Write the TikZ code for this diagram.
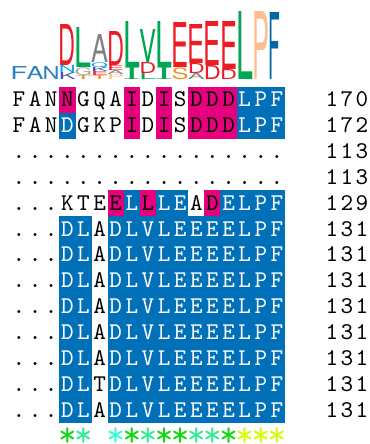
\documentclass[tikz,border=0pt]{standalone}
\usepackage{fontspec}
\usepackage{xcolor}
\usepackage{graphicx}
\usepackage{tikz}
\newfontfamily\logofont{TeX Gyre Heros}

\newlength{\pxu}
\setlength{\pxu}{0.4167pt}
\newcommand{\spreadnum}[3]{\makebox[6.25pt]{#1}\makebox[6.25pt]{#2}\makebox[6.25pt]{#3}}

\definecolor{hlmagenta}{RGB}{230,0,126}
\definecolor{hlblue}{RGB}{0,112,184}
\definecolor{lgred}{RGB}{237,28,36}
\definecolor{lggreen}{RGB}{0,166,81}
\definecolor{lggray}{RGB}{128,128,128}
\definecolor{lglight}{RGB}{165,165,165}
\definecolor{lgpeach}{RGB}{252,190,140}
\definecolor{lgsteel}{RGB}{0,105,165}
\definecolor{lgblue}{RGB}{45,130,190}
\definecolor{lgcyan}{RGB}{0,170,235}
\definecolor{lgviolet}{RGB}{75,75,190}
\definecolor{lgorange}{RGB}{245,140,40}
\definecolor{stargreen}{RGB}{20,215,20}
\definecolor{starmint}{RGB}{50,235,150}
\definecolor{staraqua}{RGB}{60,250,210}
\definecolor{staryellow}{RGB}{215,250,0}

\tikzset{
    res/.style={
        font=\fontsize{10}{12}\selectfont\ttfamily,
        inner sep=0pt,
        minimum width=6.8pt,
        minimum height=10.85pt,
        text height=7.33pt,
        text depth=1.5pt
    }
}
\tikzset{
    hl n/.style={text=black}
}
\tikzset{
    hl m/.style={fill=hlmagenta, text=black}
}
\tikzset{
    hl b/.style={fill=hlblue, text=white}
}
\tikzset{
    logo/.style={
        inner sep=0pt,
        anchor=south,
        font=\logofont
    }
}
\tikzset{
    seqno/.style={res, minimum width=20pt}
}
\tikzset{
    consensus/.style={
        font=\fontsize{15}{15}\selectfont\ttfamily,
        inner sep=0pt,
        anchor=base
    }
}

\begin{document}
\begin{tikzpicture}[
    x=0.4167pt,
    y=-0.4167pt
]
\useasboundingbox (0,0) rectangle (370,444);

% =========================================================
% Sequence logo
% =========================================================

\foreach \c/\b/\h/\lc/\l [count=\k] in {
    1/80/13/lgblue/F, 2/80/13/lgblue/A, 3/80/13/lgblue/N,
    4/80/7/lgviolet/K, 4/73/7/lgcyan/N, 4/66/41/lgred/D,
    5/80/4/lgorange/T, 5/76/8/lglight/G, 5/68/40/lggreen/L,
    6/80/4/lgorange/T, 6/76/4/lgred/E, 6/72/4/lgviolet/K, 6/68/5/lgcyan/Q, 6/63/28/lggray/A,
    7/80/5/lgpeach/P, 7/75/4/lggray/A, 7/71/5/lgred/E, 7/66/34/lgred/D,
    8/80/12/lggreen/{\rmfamily I}, 8/68/46/lggreen/L,
    9/80/6/lggreen/L, 9/74/11/lgred/D, 9/63/33/lggreen/V,
    10/80/12/lggreen/{\rmfamily I}, 10/68/46/lggreen/L,
    11/80/12/lgorange/S, 11/68/45/lgred/E,
    12/80/6/lggray/A, 12/74/10/lgred/D, 12/64/39/lgred/E,
    13/80/14/lgred/D, 13/66/44/lgred/E,
    14/80/10/lgred/D, 14/70/48/lgred/E,
    15/80/68/lggreen/L, 16/80/68/lgpeach/P, 17/80/67/lgsteel/F
} {
    \node[logo, text=\lc] (logo\k) at ({19+(\c-1)*16.12},\b)
        {\resizebox*{17\pxu}{\h\pxu}{\l}};
}

% =========================================================
% Alignment
% =========================================================

% row 1
\foreach \ch/\cd [count=\c] in {F/n,A/n,N/n,N/m,G/n,Q/n,A/n,I/m,D/n,I/m,S/n,D/m,D/m,D/m,L/b,P/b,F/b} {
    \node[res, hl \cd] (r1-\c) at ({19+(\c-1)*16.12},99.9) {\ch};
}

% row 2
\foreach \ch/\cd [count=\c] in {F/n,A/n,N/n,D/b,G/n,K/n,P/n,I/m,D/n,I/m,S/n,D/m,D/m,D/m,L/b,P/b,F/b} {
    \node[res, hl \cd] (r2-\c) at ({19+(\c-1)*16.12},125.75) {\ch};
}

% rows 3 and 4: gaps only
\foreach \r in {3,4} {
    \foreach \c in {1,...,17} {
        \node[res] (r\r-\c) at ({19+(\c-1)*16.12},{99.9+(\r-1)*25.85}) {.};
    }
}

% row 5
\foreach \ch/\cd [count=\c] in {./n,./n,./n,K/n,T/n,E/n,E/m,L/b,L/m,L/b,E/b,A/n,D/m,E/b,L/b,P/b,F/b} {
    \node[res, hl \cd] (r5-\c) at ({19+(\c-1)*16.12},203.3) {\ch};
}

% rows 6 to 13
\foreach \r/\rs in {6/A,7/A,8/A,9/A,10/A,11/A,12/T,13/A} {
    \foreach \ch/\cd [count=\c] in {./n,./n,./n,D/b,L/b,\rs/n,D/b,L/b,V/b,L/b,E/b,E/b,E/b,E/b,L/b,P/b,F/b} {
        \node[res, hl \cd] (r\r-\c) at ({19+(\c-1)*16.12},{99.9+(\r-1)*25.85}) {\ch};
    }
}

% =========================================================
% Numbering
% =========================================================

\foreach \n [count=\r] in {170,172,113,113,129,131,131,131,131,131,131,131,131} {
    \node[seqno] (no\r) at (347,{99.9+(\r-1)*25.85}) {\expandafter\spreadnum\n};
}

% =========================================================
% Consensus
% =========================================================

\foreach \c/\sc in {4/stargreen,5/starmint,7/staraqua,8/stargreen,9/starmint,10/stargreen,
    11/stargreen,12/starmint,13/starmint,14/stargreen,15/staryellow,16/staryellow,17/staryellow} {
    \node[consensus, text=\sc] (cons\c) at ({19+(\c-1)*16.12},446) {*};
}

\end{tikzpicture}
\end{document}
